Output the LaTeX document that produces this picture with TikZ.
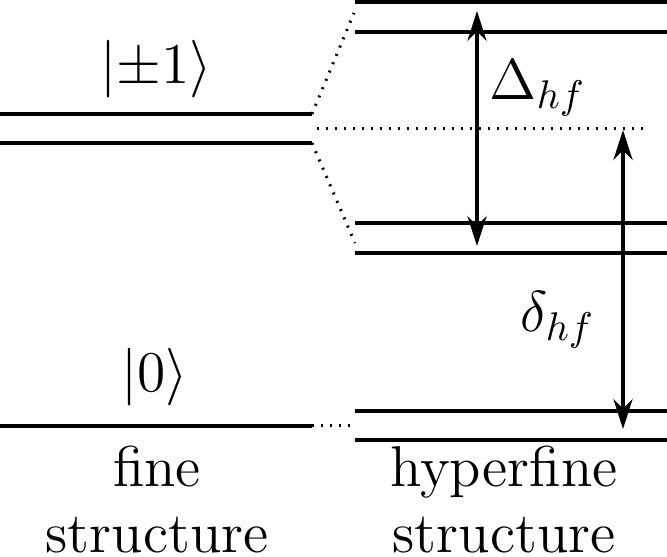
\RequirePackage{fix-cm}
\documentclass[tikz,border=0pt]{standalone}
\usepackage{amsmath}
\usetikzlibrary{arrows.meta}

\begin{document}
\begin{tikzpicture}[
  x=0.25pt, y=-0.25pt,
  >={Stealth[length=7.5pt,width=4.8pt]},
  level/.style={line width=1pt},
  link/.style={line width=0.75pt, dash pattern=on 0.5pt off 1.75pt},
  split/.style={<->, line width=0.8pt},
  label/.style={font=\fontsize{14.4}{16.5}\selectfont, inner sep=0pt},
]
  \useasboundingbox (0,0) rectangle (667,557);

  % Fine structure levels
  \draw[level] (0,114) -- (312,114) coordinate (pmUp);
  \draw[level] (0,143) -- (312,143) coordinate (pmDown);
  \draw[level] (0,426) -- (312,426) coordinate (zeroEnd);

  % Hyperfine structure levels
  \draw[level] (355,2) -- (667,2);
  \draw[level] (355,32) -- (667,32);
  \draw[level] (355,223) -- (667,223);
  \draw[level] (355,253) -- (667,253);
  \draw[level] (355,411) -- (667,411);
  \draw[level] (355,440) -- (667,440);

  % Dotted guides
  \coordinate (splitUp) at (354,13);
  \coordinate (splitDown) at (355,243);
  \coordinate (midL) at (317,129);
  \coordinate (midR) at (645,129);
  \coordinate (zeroR) at (354,426);
  \draw[link] (pmUp) -- (splitUp);
  \draw[link] (pmDown) -- (splitDown);
  \draw[link] (midL) -- (midR);
  \draw[link] (zeroEnd) -- (zeroR);

  % Splittings
  \coordinate (bigTop) at (477,11);
  \coordinate (bigBot) at (477,246);
  \coordinate (smallTop) at (623,130);
  \coordinate (smallBot) at (623,429);
  \draw[split] (bigTop) -- (bigBot);
  \draw[split] (smallTop) -- (smallBot);

  % Labels
  \node[label, anchor=base] (pmLbl) at (156,83) {$|{\pm}1\rangle$};
  \node[label, anchor=base] (zeroLbl) at (155,392) {$|0\rangle$};
  \node[label, anchor=base west] (bigLbl) at (489,100) {$\Delta_{hf}$};
  \node[label, anchor=base west] (smallLbl) at (520,332) {$\delta_{hf}$};
  \node[label, anchor=base, align=center] (fineLbl) at (157,553) {fine\\structure};
  \node[label, anchor=base, align=center] (hypLbl) at (504,553) {hyperfine\\structure};
\end{tikzpicture}
\end{document}
